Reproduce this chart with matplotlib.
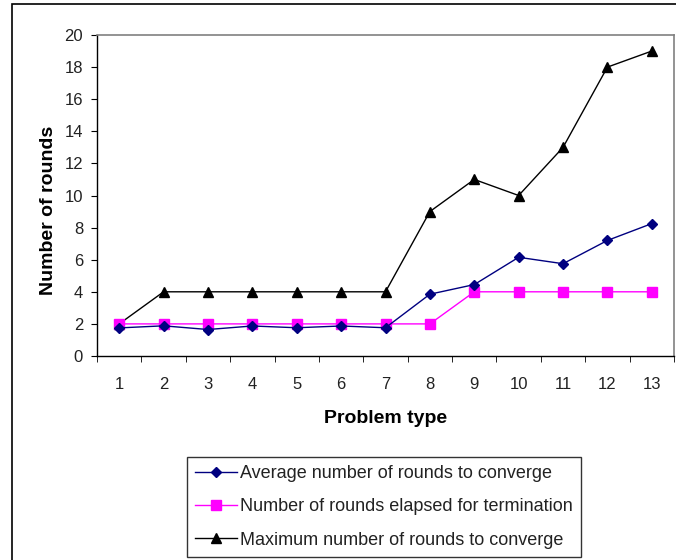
import matplotlib
matplotlib.use("Agg")
import matplotlib.pyplot as plt
from matplotlib.patches import Rectangle
import numpy as np

problem_types = ["1", "2", "3", "4", "5", "6", "7", "8", "9", "10", "11", "12", "13"]
avg_rounds = [1.75, 1.88, 1.65, 1.87, 1.76, 1.87, 1.76, 3.85, 4.45, 6.15, 5.75, 7.2, 8.25]
term_rounds = [2, 2, 2, 2, 2, 2, 2, 2, 4, 4, 4, 4, 4]
max_rounds = [2, 4, 4, 4, 4, 4, 4, 9, 11, 10, 13, 18, 19]

plt.rcParams['font.family'] = ['Liberation Sans', 'DejaVu Sans']

W, H = 676, 560
fig = plt.figure(figsize=(W / 100, H / 100), dpi=100)
fig.patch.set_facecolor('white')

# outer chart-area border
fig.add_artist(Rectangle((12 / W, -0.05), 1.2, 1 - 4 / H + 0.05, transform=fig.transFigure,
                         fill=False, edgecolor='black', linewidth=1.2))

left, right, top, bottom = 97, 674, 35, 356
ax = fig.add_axes([left / W, 1 - bottom / H, (right - left) / W, (bottom - top) / H])

x = np.arange(1, len(problem_types) + 1)
ax.plot(x, avg_rounds, color='#000080', marker='D', markersize=5, linewidth=1,
        label='Average number of rounds to converge', zorder=4)
ax.plot(x, term_rounds, color='#FF00FF', marker='s', markersize=7, linewidth=1,
        label='Number of rounds elapsed for termination', zorder=3)
ax.plot(x, max_rounds, color='black', marker='^', markersize=7, linewidth=1,
        label='Maximum number of rounds to converge', zorder=2)

ax.set_xlim(0.5, len(problem_types) + 0.5)
ax.set_ylim(0, 20)
ax.set_yticks(range(0, 21, 2))
ax.set_xticks(x)
ax.set_xticklabels(problem_types)
ax.set_xticks(np.arange(0.5, len(problem_types) + 1, 1), minor=True)
ax.tick_params(axis='x', which='major', length=0, pad=15, labelsize=12, colors='#222222')
ax.tick_params(axis='x', which='minor', length=4, direction='out', color='black')
ax.tick_params(axis='y', length=4, direction='out', labelsize=12, pad=6, colors='black', labelcolor='#222222')

for s in ['top', 'right']:
    ax.spines[s].set_color('#808080')
    ax.spines[s].set_linewidth(1.2)
for s in ['left', 'bottom']:
    ax.spines[s].set_color('black')
    ax.spines[s].set_linewidth(1)

ax.set_xlabel('Problem type', fontsize=14, fontweight='bold', labelpad=13)
ax.set_ylabel('Number of rounds', fontsize=14, fontweight='bold')
ax.yaxis.set_label_coords(-0.069, 0.455)

leg = fig.legend(loc='upper left', bbox_to_anchor=(187 / W, 1 - 457 / H), ncol=1,
                 fontsize=13, frameon=True, fancybox=False, edgecolor='black',
                 handlelength=2.3, handletextpad=0.2, borderpad=0.45, labelspacing=0.9,
                 borderaxespad=0)
leg.get_frame().set_linewidth(1)
for t in leg.get_texts():
    t.set_color('#222222')

fig.savefig('out.png', dpi=100)
